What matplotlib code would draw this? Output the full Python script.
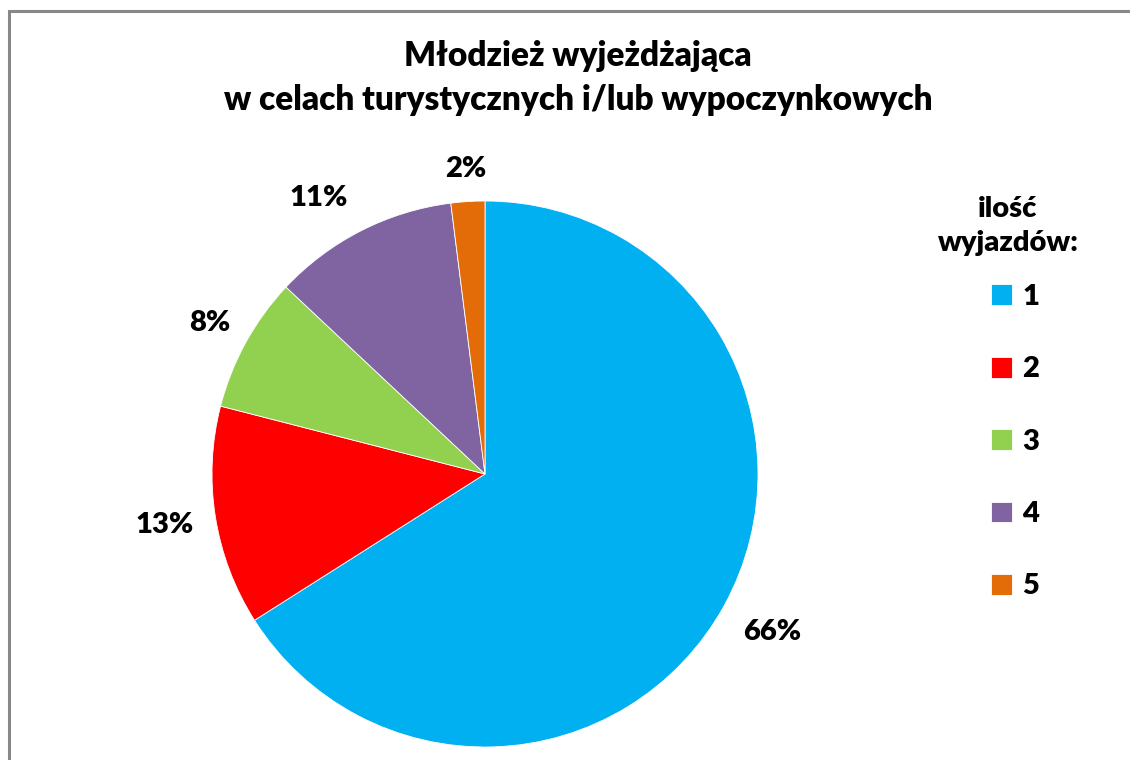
import matplotlib
matplotlib.use("Agg")
import numpy as np
import matplotlib.pyplot as plt
from matplotlib.patches import Rectangle

categories = ["1", "2", "3", "4", "5"]
values = [66, 13, 8, 11, 2]
colors = ["#00B0F0", "#FF0000", "#92D050", "#8064A2", "#E36C09"]
title = "Młodzież wyjeżdżająca\nw celach turystycznych i/lub wypoczynkowych"
legend_title = "ilość\nwyjazdów:"
label_dist = [1.2, 1.19, 1.15, 1.18, 1.12]
label_angle_shift = [0, 0, 0, 4, 0]

plt.rcParams['font.family'] = ['Lato', 'DejaVu Sans']
WEIGHT = "heavy"

W, H = 1130, 760
fig = plt.figure(figsize=(W / 100, H / 100), dpi=100)
fig.patch.set_facecolor("white")

# border
fig.patches.append(Rectangle((8.5 / W, -0.05), 1.2, 0.05 + (H - 10.5) / H,
                             transform=fig.transFigure, fill=False,
                             edgecolor="#888888", linewidth=2.2))

cx, cy, r = 485, 474, 273
ax = fig.add_axes([(cx - r) / W, (H - cy - r) / H, 2 * r / W, 2 * r / H])
wedges, texts, autotexts = ax.pie(
    values, colors=colors, startangle=90, counterclock=False,
    autopct=lambda p: f"{p:.0f}%", pctdistance=1.17, radius=1,
    wedgeprops=dict(edgecolor="white", linewidth=0.6),
    textprops=dict(fontsize=21, fontweight=WEIGHT, color="black"))
for w, t, d, s in zip(wedges, autotexts, label_dist, label_angle_shift):
    ang = np.deg2rad((w.theta1 + w.theta2) / 2 + s)
    t.set_position((d * np.cos(ang), d * np.sin(ang)))
ax.set_xlim(-1, 1)
ax.set_ylim(-1, 1)
ax.set_aspect("auto")
ax.axis("off")

fig.text(578 / W, 1 - 78 / H, title, ha="center", va="center",
         fontsize=24, fontweight=WEIGHT, linespacing=1.45)

fig.text(1008 / W, 1 - 226 / H, legend_title, ha="center", va="center",
         multialignment="center", fontsize=21, fontweight=WEIGHT,
         linespacing=1.35)

leg = fig.legend(wedges, categories,
                 loc="upper left", bbox_to_anchor=(991 / W, 1 - 284 / H),
                 frameon=False, fontsize=21, borderaxespad=0, borderpad=0,
                 handlelength=0.72, handleheight=0.72, handletextpad=0.35,
                 labelspacing=1.59)
for t in leg.get_texts():
    t.set_fontweight(WEIGHT)

fig.savefig("out.png", dpi=100, facecolor="white")
